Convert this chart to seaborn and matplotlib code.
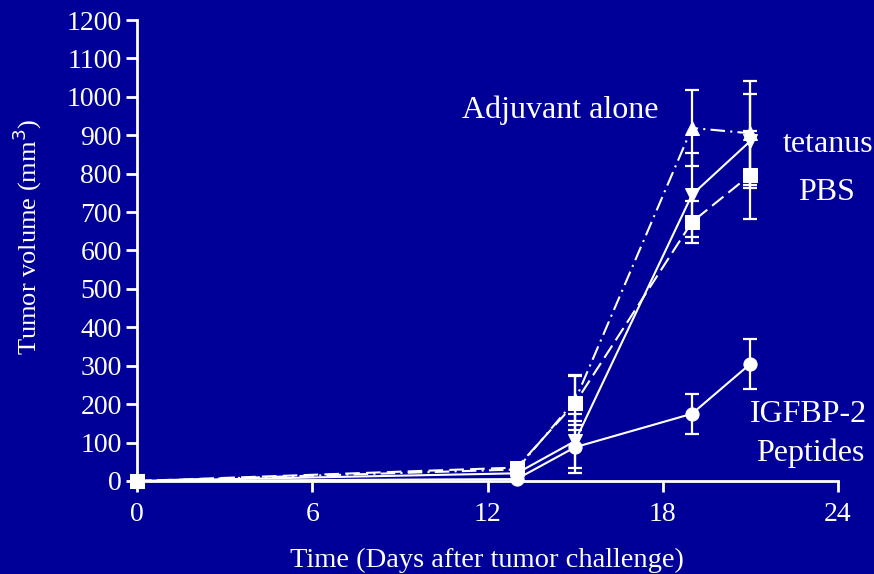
import matplotlib
matplotlib.use("Agg")
import matplotlib.pyplot as plt
import seaborn as sns
import pandas as pd
import numpy as np

days = [0, 13, 15, 19, 21]
igfbp_vals = [0, 5, 88, 175, 305]
igfbp_err = [0, 0, 68, 52, 65]
tetanus_vals = [0, 20, 104, 745, 885]
tetanus_err = [0, 0, 70, 110, 123]
pbs_vals = [0, 35, 203, 674, 797]
pbs_err = [0, 8, 70, 55, 115]
adjuvant_vals = [0, 30, 210, 919, 905]
adjuvant_err = [0, 8, 65, 100, 135]

x_ticks = [0, 6, 12, 18, 24]
y_ticks = list(range(0, 1300, 100))

BG = "#000099"
FG = "white"

sns.set_theme(style="white")
plt.rcParams["font.family"] = ["Liberation Serif", "DejaVu Serif"]

fig = plt.figure(figsize=(8.74, 5.74), dpi=100, facecolor=BG)
ax = fig.add_axes([137/874, 1-481/574, (838-137)/874, (481-20)/574])
ax.set_facecolor(BG)

series = [
    ("IGFBP-2 Peptides", igfbp_vals, igfbp_err, "o", None),
    ("tetanus", tetanus_vals, tetanus_err, "v", None),
    ("PBS", pbs_vals, pbs_err, "s", (7, 3)),
    ("Adjuvant alone", adjuvant_vals, adjuvant_err, "^", (7, 2.5, 1, 2.5)),
]

for name, vals, errs, mk, dash in series:
    df = pd.DataFrame({"day": days, "vol": vals})
    ax.errorbar(days, vals, yerr=errs, fmt="none", ecolor=FG, elinewidth=1.6,
                capsize=5, capthick=1.6, zorder=2)
    sns.lineplot(data=df, x="day", y="vol", ax=ax, color=FG, marker=mk,
                 markersize=9.5, markeredgecolor=FG, markerfacecolor=FG,
                 linewidth=1.5, zorder=3)
    line = ax.lines[-1]
    line.set_clip_on(False)
    if dash is not None:
        line.set_dashes(dash)

ax.set_xlim(0, 24)
ax.set_ylim(0, 1200)
ax.set_xticks(x_ticks)
ax.set_yticks(y_ticks)
for s in ["top", "right"]:
    ax.spines[s].set_visible(False)
for s in ["left", "bottom"]:
    ax.spines[s].set_color(FG)
    ax.spines[s].set_linewidth(2)
ax.tick_params(axis="both", colors=FG, labelcolor=FG, labelsize=20,
               direction="out", length=8, width=2, left=True, bottom=True)
ax.tick_params(axis="x", pad=7)
ax.tick_params(axis="y", pad=3)
ax.set_xlabel("Time (Days after tumor challenge)", color=FG, fontsize=20.5)
ax.set_ylabel("Tumor volume (mm$^3$)", color=FG, fontsize=19)
ax.xaxis.set_label_coords(0.499, -0.146)
ax.yaxis.set_label_coords(-0.132, 0.529)
ax.grid(False)

kw = dict(color=FG, fontsize=23, ha="center", va="center", clip_on=False)
ax.text(14.49, 966, "Adjuvant alone", **kw)
ax.text(23.66, 875, "tetanus", **kw)
ax.text(23.6, 752, "PBS", **kw)
ax.text(22.98, 172, "IGFBP-2", **kw)
ax.text(23.05, 73, "Peptides", **kw)

fig.savefig("out.png", dpi=100, facecolor=BG)
